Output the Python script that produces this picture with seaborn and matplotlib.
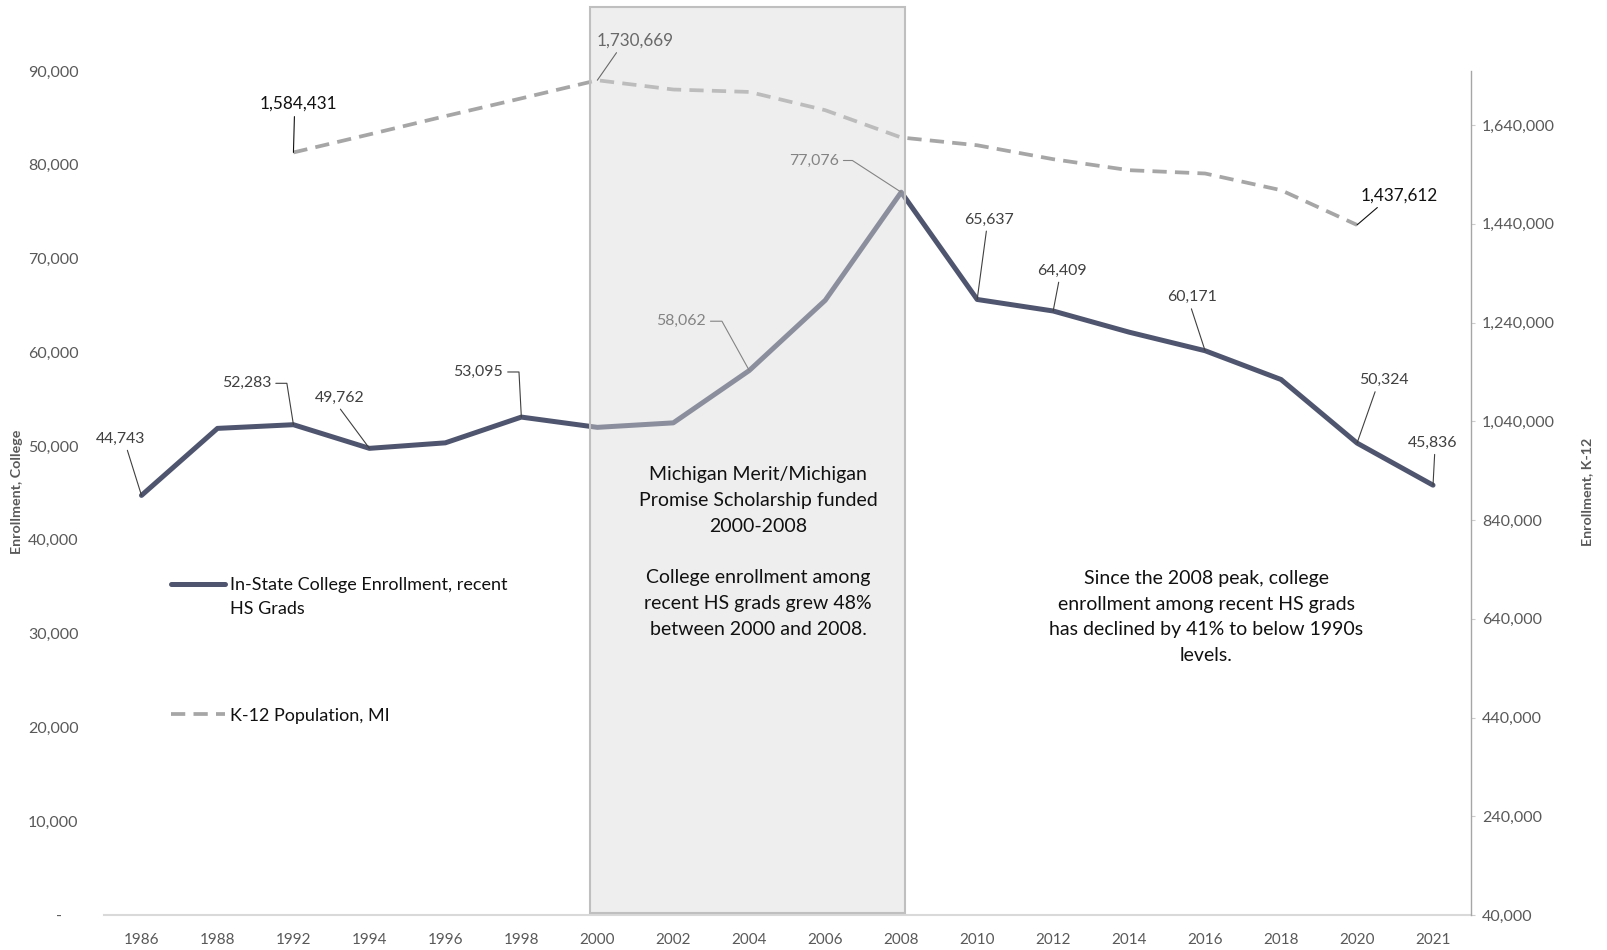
import numpy as np
import pandas as pd
import matplotlib
matplotlib.use("Agg")
import matplotlib.pyplot as plt
import matplotlib.transforms as mtransforms
from matplotlib.patches import Rectangle
from matplotlib.ticker import FuncFormatter, FixedLocator
import seaborn as sns

# ---------------- data ----------------
years = ["1986", "1988", "1992", "1994", "1996", "1998", "2000", "2002", "2004",
         "2006", "2008", "2010", "2012", "2014", "2016", "2018", "2020", "2021"]
college = [44743, 51890, 52283, 49762, 50350, 53095, 52000, 52480, 58062,
           65550, 77076, 65637, 64409, 62150, 60171, 57100, 50324, 45836]
k12 = [np.nan, np.nan, 1584431, 1621000, 1658000, 1694000, 1730669, 1711900, 1707000,
       1670000, 1614700, 1599000, 1570800, 1548500, 1541800, 1508000, 1437612, np.nan]
college_labeled = ["1986", "1992", "1994", "1998", "2004", "2008", "2010", "2012", "2016", "2020", "2021"]
k12_labeled = ["1992", "2000", "2020"]
left_ticks = [0, 10000, 20000, 30000, 40000, 50000, 60000, 70000, 80000, 90000]
right_ticks = [40000, 240000, 440000, 640000, 840000, 1040000, 1240000, 1440000, 1640000]
college_name = "In-State College Enrollment, recent\nHS Grads"
k12_name = "K-12 Population, MI"
box_text = ("Michigan Merit/Michigan\nPromise Scholarship funded\n2000-2008\n\n"
            "College enrollment among\nrecent HS grads grew 48%\nbetween 2000 and 2008.")
right_text = ("Since the 2008 peak, college\nenrollment among recent HS grads\n"
              "has declined by 41% to below 1990s\nlevels.")
program_start, program_end = "2000", "2008"

# ---------------- style ----------------
W_PX, H_PX = 1607, 950
DARK = "#4f556e"
DASH = "#a6a6a6"
TICK_C = "#595959"
LBL_C = "#404040"

sns.set_style("white")
plt.rcParams['font.family'] = ['Lato', 'DejaVu Sans']

fig = plt.figure(figsize=(W_PX / 100, H_PX / 100), dpi=100)
ax_l, ax_r, ax_t, ax_b = 103.5, 1471, 71, 915
ax = fig.add_axes([ax_l / W_PX, 1 - ax_b / H_PX, (ax_r - ax_l) / W_PX, (ax_b - ax_t) / H_PX])

df = pd.DataFrame({"pos": np.arange(len(years)), "year": years, "college": college, "k12": k12})

sns.lineplot(data=df, x="pos", y="college", ax=ax, color=DARK, lw=3.6,
             solid_capstyle="round", solid_joinstyle="round")
ax2 = ax.twinx()
sns.lineplot(data=df.dropna(subset=["k12"]), x="pos", y="k12", ax=ax2, color=DASH, lw=2.7)
k_line = ax2.lines[0]
k_line.set_dashes((3.8, 2.2))
c_line = ax.lines[0]

for a in (ax, ax2):
    a.set_xlim(-0.5, len(years) - 0.5)
    a.set_xlabel("")
    a.set_ylabel("")
ax.set_ylim(0, 90000)
ax2.set_ylim(40000, 1749400)

# axes styling
for s in ("left", "top", "right"):
    ax.spines[s].set_visible(False)
ax.spines["bottom"].set_color("#d9d9d9")
ax.spines["bottom"].set_linewidth(1.5)
for s in ("left", "top", "bottom"):
    ax2.spines[s].set_visible(False)
ax2.spines["right"].set_color("#a6a6a6")
ax2.spines["right"].set_linewidth(1.0)

ax.xaxis.set_major_locator(FixedLocator(df["pos"]))
ax.set_xticklabels(years)
ax.tick_params(axis="x", length=0, pad=13, labelsize=11, labelcolor=TICK_C)
ax.yaxis.set_major_locator(FixedLocator(left_ticks))
ax.yaxis.set_major_formatter(FuncFormatter(lambda v, p: "-    " if v == 0 else f"{v:,.0f}"))
ax.tick_params(axis="y", length=0, pad=18, labelsize=11.5, labelcolor=TICK_C)
ax2.yaxis.set_major_locator(FixedLocator(right_ticks))
ax2.yaxis.set_major_formatter(FuncFormatter(lambda v, p: f"{v:,.0f}"))
ax2.tick_params(axis="y", length=3, width=0.8, color="#cccccc", pad=5, labelsize=11.5, labelcolor=TICK_C)
ax.grid(False)
ax2.grid(False)

# axis titles
fig.text(17.4 / W_PX, 1 - 492 / H_PX, "Enrollment, College", rotation=90, ha="center", va="center",
         fontsize=10.3, fontweight="bold", color=TICK_C)
fig.text(1587 / W_PX, 1 - 492 / H_PX, "Enrollment, K-12", rotation=90, ha="center", va="center",
         fontsize=10.3, fontweight="bold", color=TICK_C)

# ---------------- data labels ----------------
# offsets in pixels relative to the point; kind: 's' straight, 'a' angled with stub
c_label_style = {
    "1986": (-20.5, 56.7, "s", (0.6, 0.0), None),
    "1992": (-47.0, 41.4, "a", (1.0, 0.5), 99),
    "1994": (-29.8, 50.6, "s", (0.45, 0.0), None),
    "1998": (-43.2, 45.1, "a", (1.0, 0.5), 93),
    "2004": (-68.3, 49.3, "a", (1.0, 0.5), 119),
    "2008": (-87.4, 31.7, "a", (1.0, 0.5), 147),
    "2010": (12.3, 80.0, "s", (0.45, 0.0), None),
    "2012": (8.9, 40.4, "s", (0.45, 0.0), None),
    "2016": (-12.7, 53.5, "s", (0.45, 0.0), None),
    "2020": (27.1, 62.9, "s", (0.35, 0.0), None),
    "2021": (-0.6, 42.4, "s", (0.55, 0.0), None),
}
k_label_style = {
    "1992": (5.0, 48.5, "s", (0.45, 0.0), None),
    "2000": (37.7, 40.0, "s", (0.3, 0.0), None),
    "2020": (42.5, 29.6, "s", (0.3, 0.1), None),
}


def add_label(axis, i, v, style, size, color):
    dx, dy, kind, rp, angB = style
    if kind == "a":
        cs = f"angle,angleA=0,angleB={angB},rad=0"
    else:
        cs = "arc3,rad=0"
    axis.annotate(f"{v:,.0f}", xy=(i, v), xytext=(dx, dy), textcoords="offset pixels",
                  ha="center", va="center", fontsize=size, color=color, zorder=6,
                  annotation_clip=False,
                  arrowprops=dict(arrowstyle="-", color=color, lw=0.8, shrinkA=1, shrinkB=0,
                                  relpos=rp, connectionstyle=cs))


for yr in college_labeled:
    i = years.index(yr)
    add_label(ax, i, college[i], c_label_style[yr], 11.4, LBL_C)
for yr in k12_labeled:
    i = years.index(yr)
    add_label(ax2, i, k12[i], k_label_style[yr], 12.3, "#111111")

# ---------------- program highlight box ----------------
i0, i1 = years.index(program_start), years.index(program_end)
blend = mtransforms.blended_transform_factory(ax2.transData, ax2.transAxes)
bx0, bx1 = i0 - 0.09, i1 + 0.05
by0, by1 = 0.002, 1.0758
ax2.add_patch(Rectangle((bx0, by0), bx1 - bx0, by1 - by0, transform=blend, facecolor="#dadada",
                        alpha=0.44, edgecolor="none", clip_on=False, zorder=20))
ax2.add_patch(Rectangle((bx0, by0), bx1 - bx0, by1 - by0, transform=blend, facecolor="none",
                        edgecolor="#bfbfbf", lw=1.5, clip_on=False, zorder=21))

fig.text(758 / W_PX, 1 - 552 / H_PX, box_text, ha="center", va="center", ma="center",
         fontsize=14, color="#111111", linespacing=1.62)
fig.text(1206 / W_PX, 1 - 617 / H_PX, right_text, ha="center", va="center", ma="center",
         fontsize=14, color="#111111", linespacing=1.62)

# ---------------- legend ----------------
name_first, name_rest = college_name.split("\n", 1)
leg_kw = dict(bbox_transform=fig.transFigure, frameon=False, borderpad=0, borderaxespad=0,
              handlelength=3.0, handletextpad=0.25, fontsize=13, labelcolor="#111111",
              loc="center left")
leg1 = ax.legend(handles=[c_line], labels=[name_first],
                 bbox_to_anchor=(171 / W_PX, 1 - 585 / H_PX), **leg_kw)
ax.add_artist(leg1)
leg2 = ax.legend(handles=[k_line], labels=[k12_name],
                 bbox_to_anchor=(171 / W_PX, 1 - 715.5 / H_PX), **leg_kw)

fig.canvas.draw()
tb = leg1.get_texts()[0].get_window_extent(fig.canvas.get_renderer())
fig.text(tb.x0 / W_PX, 1 - 609 / H_PX, name_rest, ha="left", va="center",
         fontsize=13, color="#111111")

fig.savefig("out.png", dpi=100)
